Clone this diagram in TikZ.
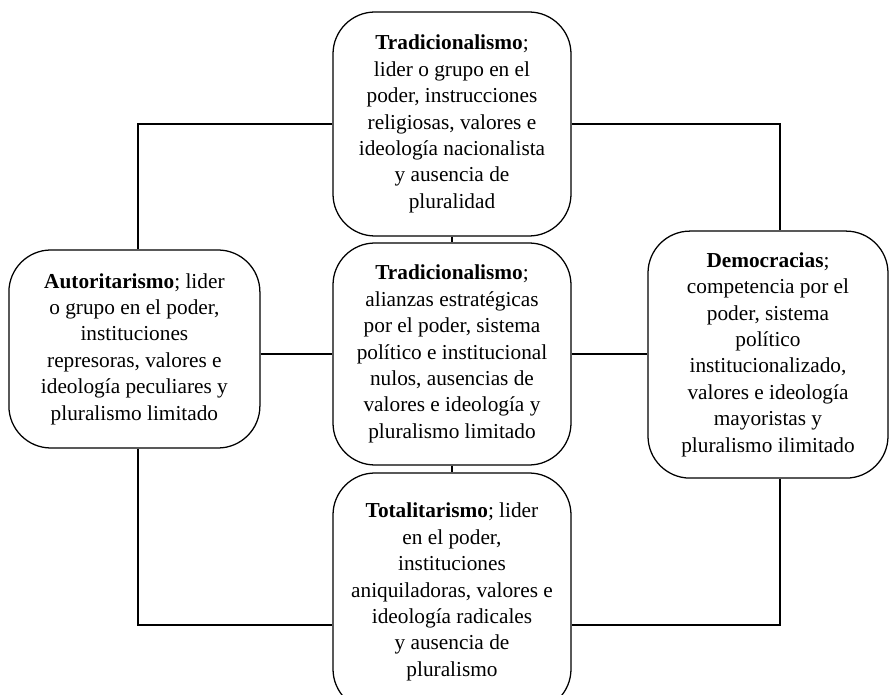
\documentclass[tikz,border=0pt]{standalone}
\usepackage{fontspec}
\setmainfont{Liberation Serif}
\usepackage{tikz}

\tikzset{
  regbox/.style={draw, black, line width=0.9pt, rounded corners=1.05cm, fill=white,
    align=center, inner sep=2pt, font=\fontsize{15.15}{18.8}\selectfont},
  frameline/.style={black, line width=2.1pt},
  linkline/.style={black, line width=1.2pt}
}

\begin{document}
\begin{tikzpicture}
                \useasboundingbox (0, 0) rectangle (22.25, 17.375);
                % Boxes
                \node [regbox, minimum width=5.95cm, minimum height=5.6cm] (trad1) at (11.3, 14.275)
                  {\textbf{Tradicionalismo};\\lider o grupo en el\\poder, instrucciones\\religiosas, valores e\\ideología nacionalista\\y ausencia de\\pluralidad};
                \node [regbox, minimum width=5.95cm, minimum height=5.55cm] (trad2) at (11.3, 8.525)
                  {\textbf{Tradicionalismo};\\alianzas estratégicas\\por el poder, sistema\\político e institucional\\nulos, ausencias de\\valores e ideología y\\pluralismo limitado};
                \node [regbox, minimum width=5.95cm, minimum height=5.95cm] (total) at (11.3, 2.575)
                  {\textbf{Totalitarismo}; lider\\en el poder,\\instituciones\\aniquiladoras, valores e\\ideología radicales\\y ausencia de\\pluralismo};
                \node [regbox, minimum width=6.275cm, minimum height=4.95cm] (autor) at (3.36, 8.65)
                  {\textbf{Autoritarismo}; lider\\o grupo en el poder,\\instituciones\\represoras, valores e\\ideología peculiares y\\pluralismo limitado};
                \node [regbox, minimum width=6cm, minimum height=6.175cm] (demo) at (19.2, 8.51)
                  {\textbf{Democracias};\\competencia por el\\poder, sistema\\político\\institucionalizado,\\valores e ideología\\mayoristas y\\pluralismo ilimitado};
                % Frame corners
                \coordinate (tl) at (3.45, 14.3);
                \coordinate (tr) at (19.5, 14.3);
                \coordinate (bl) at (3.45, 1.75);
                \coordinate (br) at (19.5, 1.75);
                % Frame
                \draw [frameline] (trad1.west) -- (trad1.west -| tl) -- (autor.north -| tl);
                \draw [frameline] (trad1.east) -- (trad1.east -| tr) -- (demo.north -| tr);
                \draw [frameline] (autor.south -| bl) -- (bl) -- (total.west |- bl);
                \draw [frameline] (demo.south -| br) -- (br) -- (total.east |- br);
                % Links
                \draw [linkline] (autor.east |- trad2.west) -- (trad2.west);
                \draw [linkline] (trad2.east) -- (trad2.east -| demo.west);
                \draw [frameline] (trad1.south) -- (trad2.north);
                \draw [frameline] (trad2.south) -- (total.north);
\end{tikzpicture}
\end{document}
